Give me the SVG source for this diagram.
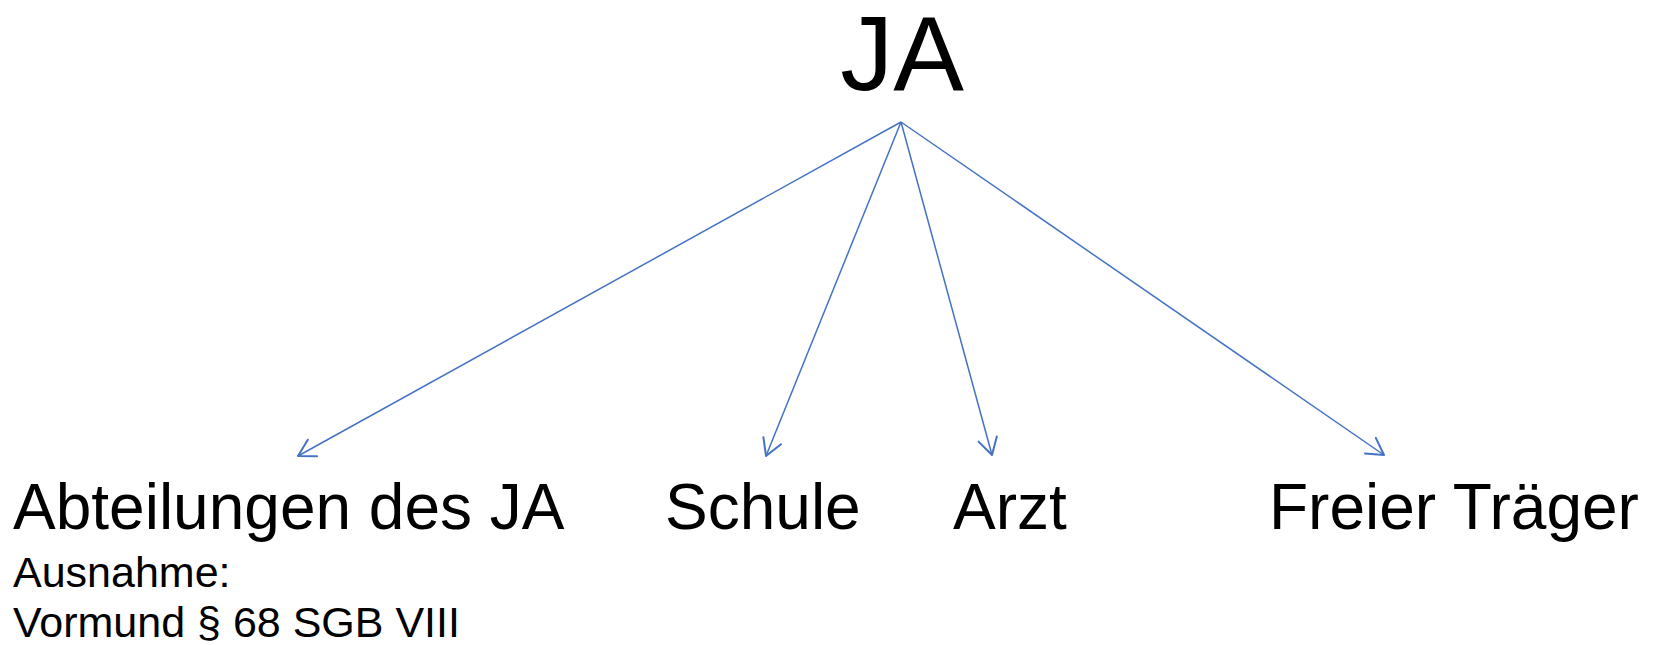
<svg xmlns="http://www.w3.org/2000/svg" width="1653" height="645" viewBox="0 0 1653 645">
  <style>
    .lbl { font-family: "Liberation Sans", Arial, sans-serif; fill: #000; }
    .big { font-size: 106px; }
    .mid { font-size: 64px; }
    .sml { font-size: 43px; }
    .conn { stroke: #4472C4; stroke-width: 1.5; fill: none; }
  </style>
  <defs>
    <marker id="arr" viewBox="-20 -12 24 24" refX="0" refY="0" markerWidth="24" markerHeight="24" markerUnits="userSpaceOnUse" orient="auto">
      <path d="M-16.5,-9.5 L0,0 L-16.5,9.5" fill="none" stroke="#4472C4" stroke-width="2" stroke-linecap="round" stroke-linejoin="round"/>
    </marker>
  </defs>
  <rect width="1653" height="645" fill="#fff"/>
  <g id="connectors">
    <line class="conn" x1="901" y1="122" x2="298" y2="456" marker-end="url(#arr)"/>
    <line class="conn" x1="901" y1="122" x2="766" y2="456" marker-end="url(#arr)"/>
    <line class="conn" x1="901" y1="122" x2="992" y2="455" marker-end="url(#arr)"/>
    <line class="conn" x1="901" y1="122" x2="1384" y2="455" marker-end="url(#arr)"/>
  </g>
  <g id="node-ja">
    <text class="lbl big" x="902" y="90" text-anchor="middle">JA</text>
  </g>
  <g id="node-abteilungen">
    <text class="lbl mid" x="13" y="529">Abteilungen des JA</text>
    <text class="lbl sml" x="13" y="587">Ausnahme:</text>
    <text class="lbl sml" x="13" y="637">Vormund § 68 SGB VIII</text>
  </g>
  <g id="node-schule">
    <text class="lbl mid" x="665" y="529">Schule</text>
  </g>
  <g id="node-arzt">
    <text class="lbl mid" x="953" y="529">Arzt</text>
  </g>
  <g id="node-traeger">
    <text class="lbl mid" x="1269" y="529">Freier Träger</text>
  </g>
</svg>
